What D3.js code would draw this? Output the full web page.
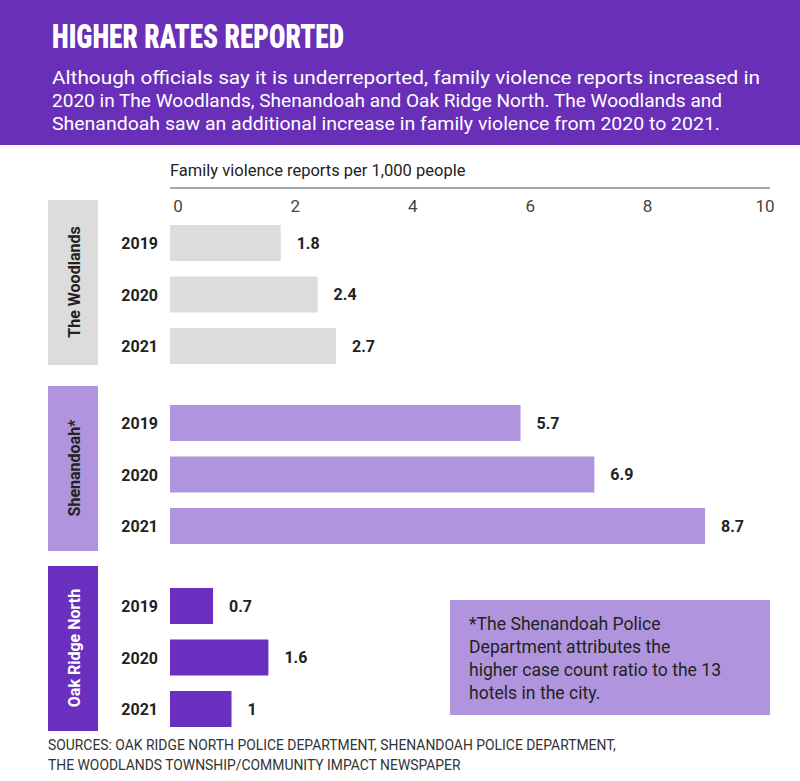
<!DOCTYPE html>
<html><head><meta charset="utf-8">
<script src="https://cdn.jsdelivr.net/npm/d3@7"></script>
<style>body{margin:0;background:#fff}</style>
</head><body>
<script>
// data
var groups = ["The Woodlands", "Shenandoah*", "Oak Ridge North"];
var years = ["2019", "2020", "2021"];
var woodlands = [1.8, 2.4, 2.7];
var shenandoah = [5.7, 6.9, 8.7];
var oakRidge = [0.7, 1.6, 1];
var ticks = [0, 2, 4, 6, 8, 10];
var series = [woodlands, shenandoah, oakRidge];
var barColors = ["#dcdcdc", "#b095de", "#6a2fbf"];
var boxColors = ["#dcdcdc", "#b095de", "#6a2fbf"];
var labelColors = ["#222", "#222", "#fff"];

var W = 800, H = 781;
var svg = d3.select("body").append("svg").attr("width", W).attr("height", H);
var font = "Roboto, 'Open Sans', sans-serif";

// header
svg.append("rect").attr("width", W).attr("height", 145).attr("fill", "#6a2fb8");
svg.append("text").attr("x", 52).attr("y", 48).text("HIGHER RATES REPORTED")
  .attr("fill", "#fff").attr("font-family", "'Roboto Condensed','Liberation Sans Narrow', Roboto, sans-serif")
  .attr("font-weight", 900).attr("font-size", 34).attr("textLength", 292).attr("lengthAdjust", "spacingAndGlyphs");
var sub = ["Although officials say it is underreported, family violence reports increased in",
  "2020 in The Woodlands, Shenandoah and Oak Ridge North. The Woodlands and",
  "Shenandoah saw an additional increase in family violence from 2020 to 2021."];
var subLen = [708, 670, 668];
svg.selectAll(".sub").data(sub).join("text").attr("x", 52).attr("y", function(d, i){ return 84 + i * 23; })
  .text(function(d){ return d; }).attr("fill", "#fff").attr("font-family", font).attr("font-size", 18.5)
  .attr("textLength", function(d, i){ return subLen[i]; }).attr("lengthAdjust", "spacingAndGlyphs");

// axis
var x = d3.scaleLinear().domain([0, 10]).range([170, 785]);
svg.append("text").attr("x", 170).attr("y", 176).text("Family violence reports per 1,000 people")
  .attr("font-family", font).attr("font-size", 16.5).attr("fill", "#222");
svg.append("line").attr("x1", 170).attr("x2", 770).attr("y1", 188).attr("y2", 188).attr("stroke", "#888").attr("stroke-width", 1.5);
var tx = d3.scaleLinear().domain([0, 10]).range([178, 765]);
svg.selectAll(".tick").data(ticks).join("text").attr("x", function(d){ return tx(d); }).attr("y", 212)
  .attr("text-anchor", "middle").text(function(d){ return d; })
  .attr("font-family", font).attr("font-size", 17).attr("fill", "#444");

var groupTop = [200, 386, 566];
var firstOff = [43, 37, 40];
var step = 51.5, bh = 36;
series.forEach(function(vals, g){
  var top = groupTop[g];
  svg.append("rect").attr("x", 48).attr("y", top).attr("width", 50).attr("height", 165).attr("fill", boxColors[g]);
  svg.append("text").attr("transform", "translate(80," + (top + 82) + ") rotate(-90)")
    .attr("text-anchor", "middle").text(groups[g]).attr("fill", labelColors[g])
    .attr("font-family", font).attr("font-weight", 700).attr("font-size", 16);
  vals.forEach(function(v, i){
    var cy = top + firstOff[g] + i * step;
    svg.append("rect").attr("x", x(0)).attr("y", cy - bh / 2).attr("width", x(v) - x(0)).attr("height", bh).attr("fill", barColors[g]);
    svg.append("text").attr("x", 158).attr("y", cy + 6).attr("text-anchor", "end").text(years[i])
      .attr("font-family", font).attr("font-weight", 700).attr("font-size", 16).attr("fill", "#222");
    svg.append("text").attr("x", x(v) + 16).attr("y", cy).attr("dy", "0.35em").text(v)
      .attr("font-family", font).attr("font-weight", 700).attr("font-size", 16).attr("fill", "#222");
  });
});

// note
svg.append("rect").attr("x", 450).attr("y", 600).attr("width", 320).attr("height", 115).attr("fill", "#b095de");
var note = ["*The Shenandoah Police", "Department attributes the", "higher case count ratio to the 13", "hotels in the city."];
svg.selectAll(".note").data(note).join("text").attr("x", 469).attr("y", function(d, i){ return 630 + i * 23; })
  .text(function(d){ return d; }).attr("font-family", font).attr("font-size", 17.6).attr("fill", "#222");

// sources
var src = ["SOURCES: OAK RIDGE NORTH POLICE DEPARTMENT, SHENANDOAH POLICE DEPARTMENT,",
  "THE WOODLANDS TOWNSHIP/COMMUNITY IMPACT NEWSPAPER"];
svg.selectAll(".src").data(src).join("text").attr("x", 48).attr("y", function(d, i){ return 750 + i * 20; })
  .text(function(d){ return d; }).attr("font-family", font).attr("font-size", 13.9).attr("fill", "#333");
</script>
</body></html>
